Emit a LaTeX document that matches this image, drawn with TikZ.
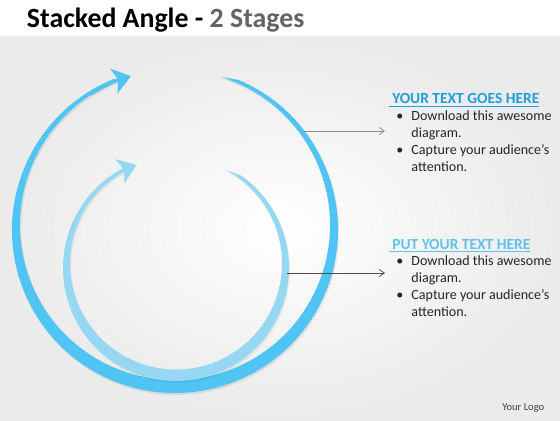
\documentclass[tikz,border=0pt]{standalone}
\usepackage{fontspec}
\setmainfont{Carlito}
\usepackage{xcolor}
\usepackage{tikz}
\usetikzlibrary{arrows.meta,positioning,calc}

\definecolor{ringout}{RGB}{80,196,244}
\definecolor{ringin}{RGB}{150,216,243}
\definecolor{headA}{RGB}{32,158,217}
\definecolor{headB}{RGB}{98,194,236}
\definecolor{titlegray}{RGB}{100,100,100}

\begin{document}
\begin{tikzpicture}[>=Latex]
\tikzstyle{head}=[anchor=base west, inner sep=0, font=\fontsize{11}{13}\selectfont\bfseries]
\tikzstyle{body}=[anchor=north west, align=left, inner xsep=0.28cm, inner ysep=0, text=black!85, font=\fontsize{10}{12.1}\selectfont]
\tikzstyle{link}=[-{Straight Barb[length=1.3mm,width=1.8mm]}, line width=0.5pt]
\tikzstyle{tip}=[-{Stealth[length=0.44cm,width=0.64cm,inset=0.11cm]}]

% page and background
\useasboundingbox (0,0) rectangle (14,10.5);
\fill[white] (0,0) rectangle (14,10.5);
\shade[inner color=white, outer color=black!8] (0,0) rectangle (14,9.575);

\node[anchor=base west, inner sep=0, font=\fontsize{19.8}{23}\selectfont\bfseries] (title) at (0.667,9.8) {Stacked Angle - \textcolor{titlegray}{2 Stages}};

% outer ring
\coordinate (o1) at (4.375,4.75);
\coordinate (o1s) at (4.375,4.875);
\fill[black, opacity=0.08] ($(o1)+(0.03,-0.05)+(67:4.075)$) arc (67:-248:4.075) -- ($(o1s)+(0.03,-0.05)+(-248:3.875)$) arc (-248:73:3.875) -- cycle;
\fill[ringout] ($(o1)+(67:4.075)$) arc (67:-248:4.075) -- ($(o1s)+(-248:3.875)$) arc (-248:73:3.875) -- cycle;
\draw[ringout, line width=0.08cm, tip] ($(o1)+(122:4.0)$) arc (122:106:4.0);

% inner ring
\coordinate (o2) at (4.4,3.8);
\coordinate (o2s) at (4.4,3.9125);
\fill[black, opacity=0.06] ($(o2)+(0.03,-0.05)+(55:2.825)$) arc (55:-242:2.825) -- ($(o2s)+(0.03,-0.05)+(-242:2.65)$) arc (-242:62:2.65) -- cycle;
\fill[ringin] ($(o2)+(55:2.825)$) arc (55:-242:2.825) -- ($(o2s)+(-242:2.65)$) arc (-242:62:2.65) -- cycle;
\draw[ringin, line width=0.07cm, tip] ($(o2)+(130:2.76)$) arc (130:111:2.76);

% first text block
\node[head, text=headA] (h1) at (9.7125,7.9) {\underline{\ YOUR TEXT GOES HERE}};
\node[body] (l1) at (9.625,7.7275) {\makebox[0.375cm][l]{\textbullet}Download this awesome\\
\makebox[0.375cm]{}diagram.\\
\makebox[0.375cm][l]{\textbullet}Capture your audience’s\\
\makebox[0.375cm]{}attention.};
\coordinate (r1) at (7.575,7.225);
\draw[link, black!45] (r1) -- (r1 -| l1.west);

% second text block
\node[head, text=headB] (h2) at (9.7125,4.275) {\underline{\ PUT YOUR TEXT HERE}};
\node[body] (l2) at (9.625,4.1025) {\makebox[0.375cm][l]{\textbullet}Download this awesome\\
\makebox[0.375cm]{}diagram.\\
\makebox[0.375cm][l]{\textbullet}Capture your audience’s\\
\makebox[0.375cm]{}attention.};
\coordinate (r2) at (7.175,3.675);
\draw[link, black!70] (r2) -- (r2 -| l2.west);

\node[anchor=base west, inner sep=0, text=black!75, font=\fontsize{7.5}{9}\selectfont] (logo) at (12.55,0.25) {Your Logo};
\end{tikzpicture}
\end{document}
